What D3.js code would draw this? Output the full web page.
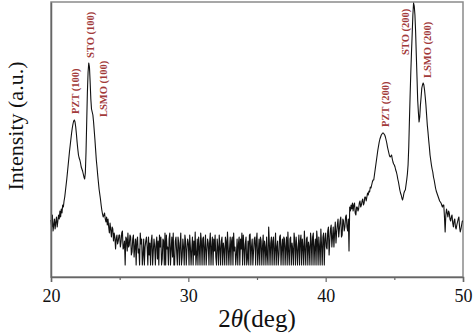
<!DOCTYPE html>
<html>
<head>
<meta charset="utf-8">
<script src="https://cdn.jsdelivr.net/npm/d3@7"></script>
<style>
  html, body { margin: 0; padding: 0; background: #fff; }
  svg { display: block; }
</style>
</head>
<body>
<svg id="chart" width="474" height="336"></svg>
<script>
// ---- data ----
// 2θ grid: 20.00 .. 50.00 in 0.05° steps
const thetaStart = 20, thetaStep = 0.05;
// intensity (a.u.), 20 values per degree
const intensity = [
  57,50,62,46,52,58,48,55,60,50,56,62,58,66,60,68,64,72,70,76,                  // 20
  80,86,92,98,105,112,119,126,132,138,144,149,153,156,157,155,150,143,135,128,  // 21
  122,119,117,114,110,108,106,103,100,98,104,125,155,185,205,214,210,195,178,168,// 22
  165,162,155,146,137,127,117,110,102,95,88,83,78,72,67,63,60,62,64,58,         // 23
  55,60,52,58,50,44,54,47,40,50,48,36,44,40,28,38,42,33,36,42,                  // 24
  42,30,35,44,46,28,30,36,12,40,38,26,44,30,32,42,40,22,25,38,                  // 25
  42,20,30,38,12,36,40,24,28,12,44,33,38,12,22,38,12,30,36,40,                  // 26
  30,12,40,22,34,12,36,42,12,26,38,30,12,33,40,18,36,12,42,30,                  // 27
  40,12,18,38,36,12,44,12,42,28,30,12,38,44,12,28,40,20,44,12,                  // 28
  12,36,40,25,12,40,34,12,32,44,12,20,38,30,12,42,36,12,28,38,                  // 29
  34,12,42,30,12,28,40,12,36,22,45,12,22,38,12,40,30,12,44,36,                  // 30
  12,38,40,12,30,42,12,26,38,34,12,35,44,12,30,40,12,38,26,42,                  // 31
  20,12,38,30,12,42,30,12,36,40,12,34,28,12,40,36,12,45,30,12,                  // 32
  28,40,12,36,40,12,44,26,30,12,22,38,12,34,40,12,38,28,44,12,                  // 33
  42,30,12,33,40,12,18,36,12,42,43,12,30,38,12,26,38,40,12,36,                  // 34
  44,12,25,38,12,40,36,12,30,42,12,36,30,12,40,22,12,50,34,12,                  // 35
  34,40,12,36,40,12,28,44,12,30,36,12,22,40,42,12,30,38,12,40,                  // 36
  38,12,30,40,12,45,26,12,38,40,12,34,28,12,44,36,12,40,30,12,                  // 37
  30,42,12,36,42,12,38,30,12,46,28,12,38,40,12,35,30,12,44,36,                  // 38
  12,40,44,12,30,38,12,46,36,12,40,30,12,48,32,12,40,44,12,38,                  // 39
  44,30,28,46,50,22,36,48,52,30,40,50,30,44,55,34,45,52,58,40,                  // 40
  48,56,60,40,42,58,56,46,50,60,62,50,46,58,26,70,66,72,68,74,                  // 41
  66,72,74,64,62,70,70,66,68,74,76,70,72,76,78,72,74,80,80,76,                  // 42
  80,84,82,86,85,90,89,92,95,97,97,102,107,112,117,122,127,131,135,138,         // 43
  140,142,143,144,144,143,142,140,137,134,130,127,124,121,120,121,122,118,115,113,// 44
  112,110,107,105,102,98,95,91,87,84,82,79,77,80,84,86,87,92,97,103,            // 45
  112,130,157,182,205,225,243,262,274,271,262,245,222,200,177,165,155,160,172,180,// 46
  189,192,194,192,187,180,172,162,152,145,137,130,122,117,112,108,105,100,97,93,// 47
  89,86,84,82,80,78,76,75,74,72,70,72,72,60,45,62,68,64,60,66,                  // 48
  64,58,56,60,62,54,50,56,58,50,48,52,55,58,60,50,45,48,52,56,                  // 49
  56                                                                            // 50
];
const xTicksMajor = [20, 30, 40, 50];
const xTicksMinor = [25, 35, 45];
const peakLabels = ["PZT (100)", "STO (100)", "LSMO (100)", "PZT (200)", "STO (200)", "LSMO (200)"];
const peakTheta  = [21.75, 22.84, 23.79, 44.33, 45.78, 47.38];
const peakLabelI = [163, 219, 160, 150, 222, 199];

// ---- layout ----
const W = 474, H = 336;
const margin = { left: 51, right: 11, top: 2, bottom: 59 };
const svg = d3.select("#chart");
const x = d3.scaleLinear().domain([20, 50]).range([margin.left, W - margin.right]);
const y = d3.scaleLinear().domain([0, 275]).range([H - margin.bottom, margin.top]);

const data = intensity.map((v, i) => ({ t: thetaStart + i * thetaStep, v }));

// frame
const axisColor = "#666";
svg.append("rect")
  .attr("x", x(20)).attr("y", y(275))
  .attr("width", x(50) - x(20)).attr("height", y(0) - y(275))
  .attr("fill", "none").attr("stroke", "#8a8a8a").attr("stroke-width", 1.5);

// curve
svg.append("path")
  .datum(data)
  .attr("fill", "none")
  .attr("stroke", "#111")
  .attr("stroke-width", 1.1)
  .attr("stroke-linejoin", "round")
  .attr("d", d3.line().x(d => x(d.t)).y(d => y(d.v)));

// x axis (major)
const gx = svg.append("g")
  .attr("transform", `translate(0,${y(0)})`)
  .call(d3.axisBottom(x).tickValues(xTicksMajor).tickFormat(d3.format("d")).tickSize(5).tickPadding(7));
gx.select(".domain").attr("stroke", axisColor).attr("stroke-width", 1.5);
gx.selectAll(".tick line").attr("stroke", axisColor).attr("stroke-width", 1.2);
gx.selectAll(".tick text")
  .attr("font-family", "'Liberation Serif', 'Times New Roman', serif")
  .attr("font-size", 18).attr("fill", "#111");
// minor ticks
const gm = svg.append("g")
  .attr("transform", `translate(0,${y(0)})`)
  .call(d3.axisBottom(x).tickValues(xTicksMinor).tickFormat("").tickSize(3));
gm.select(".domain").remove();
gm.selectAll(".tick line").attr("stroke", axisColor).attr("stroke-width", 1.2);

// y axis line (no ticks)
const gy = svg.append("g")
  .attr("transform", `translate(${x(20)},0)`)
  .call(d3.axisLeft(y).tickValues([]).tickSizeOuter(0));
gy.select(".domain").attr("stroke", axisColor).attr("stroke-width", 1.5);

// peak labels
svg.append("g").selectAll("text")
  .data(peakLabels)
  .join("text")
  .attr("transform", (d, i) => `translate(${x(peakTheta[i])},${y(peakLabelI[i])}) rotate(-90)`)
  .attr("dy", "0.35em")
  .attr("text-anchor", "start")
  .attr("font-family", "'Liberation Serif', 'Times New Roman', serif")
  .attr("font-weight", "bold")
  .attr("font-size", 10.5)
  .attr("fill", "#a23a3a")
  .text(d => d);

// axis titles
const xt = svg.append("text")
  .attr("x", 257).attr("y", 327)
  .attr("text-anchor", "middle")
  .attr("font-family", "'Liberation Serif', 'Times New Roman', serif")
  .attr("font-size", 25).attr("fill", "#111");
xt.append("tspan").text("2");
xt.append("tspan").attr("font-style", "italic").text("θ");
xt.append("tspan").text("(deg)");

svg.append("text")
  .attr("transform", `translate(23,126) rotate(-90)`)
  .attr("text-anchor", "middle")
  .attr("font-family", "'Liberation Serif', 'Times New Roman', serif")
  .attr("font-size", 22).attr("fill", "#111")
  .text("Intensity (a.u.)");
</script>
</body>
</html>
